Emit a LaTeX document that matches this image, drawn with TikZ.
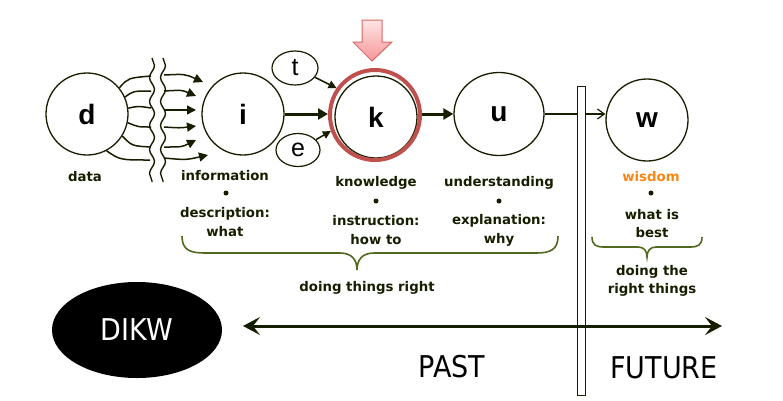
\documentclass[tikz,border=0pt]{standalone}
\usepackage{fontspec}
\usepackage{graphicx}
\setmainfont{DejaVu Sans}
\newfontfamily\letfont{Liberation Sans}
\usetikzlibrary{arrows.meta,decorations.pathmorphing,shapes.geometric}
\definecolor{ink}{RGB}{22,30,0}
\definecolor{olive}{RGB}{80,105,30}
\definecolor{ringred}{RGB}{192,80,77}
\definecolor{wisorange}{RGB}{250,135,20}
\definecolor{pinkfill}{RGB}{246,150,150}
\definecolor{pinklight}{RGB}{255,228,228}
\definecolor{pinkedge}{RGB}{215,105,105}
\tikzset{
  big/.style={circle, draw=ink, line width=1.3pt, minimum size=82pt, inner sep=0pt,
    font=\letfont\bfseries\fontsize{28}{28}\selectfont},
  small/.style={ellipse, draw=ink, line width=1.2pt, inner sep=0pt,
    font=\letfont\fontsize{25}{25}\selectfont},
  lab/.style={font=\bfseries\fontsize{13.3}{14}\selectfont, text=ink, inner sep=0pt},
  bul/.style={circle, fill=ink, minimum size=5pt, inner sep=0pt},
  big text/.style={font=\fontsize{30}{30}\selectfont, inner sep=0pt},
  fan/.style={ink, line width=1.5pt},
  fanarrow/.style={ink, line width=1.5pt, -{Triangle[length=9pt,width=9pt]}},
  thick arrow/.style={ink, line width=3pt, -{Triangle[length=10pt,width=11pt]}},
  bracepath/.style={olive, line width=1.6pt},
  wave/.style={ink, line width=1.4pt, decorate, decoration={snake, amplitude=2.5pt, segment length=24pt}}
}
\begin{document}
\begin{tikzpicture}[x=1pt,y=-1pt]
\useasboundingbox (0,0) rectangle (783,400);

% main nodes
\node[big] (d) at (87,114) {d};
\node[big] (i) at (243,114) {i};
\node[big] (k) at (376,117) {k};
\node[circle, draw=ringred, line width=4pt, minimum size=90pt, inner sep=0pt] (kring) at (375,115) {};
\node[big, ellipse, minimum width=90pt, minimum height=83pt] (u) at (499,114) {u};
\node[big] (w) at (647,120) {w};
\node[small, minimum width=46pt, minimum height=34pt] (t) at (295,68) {t};
\node[small, minimum width=44pt, minimum height=33pt] (e) at (298,150) {e};

% wavy separators
\coordinate (wl1) at (152,58); \coordinate (wl2) at (152,182);
\coordinate (wr1) at (163,58); \coordinate (wr2) at (163,182);
\draw[wave] (wl1) -- (wl2);
\draw[wave] (wr1) -- (wr2);

% fan from d to left wave
\coordinate (l1) at (151,76);  \coordinate (l2) at (151,91);
\coordinate (l3) at (151,108); \coordinate (l4) at (151,127);
\coordinate (l5) at (151,147); \coordinate (l6) at (150,160);
\draw[fan] (d.39) .. controls (128,78) .. (l1);
\draw[fan] (d.24) .. controls (133,91) .. (l2);
\draw[fan] (d.8) .. controls (138,106) .. (l3);
\draw[fan] (d.-12) .. controls (138,127) .. (l4);
\draw[fan] (d.-32) .. controls (132,146) .. (l5);
\draw[fan] (d.-62) .. controls (120,160) .. (l6);

% arrows from right wave to i
\coordinate (r1) at (164,75);  \coordinate (a1) at (203,82);
\coordinate (r2) at (164,91);  \coordinate (a2) at (196,96);
\coordinate (r3) at (164,110); \coordinate (a3) at (196,110);
\coordinate (r4) at (164,127); \coordinate (a4) at (196,126);
\coordinate (r5) at (164,147); \coordinate (a5) at (196,140);
\coordinate (r6) at (164,158); \coordinate (a6) at (208,155);
\draw[fanarrow] (r1) .. controls (185,74) .. (a1);
\draw[fanarrow] (r2) .. controls (182,90) .. (a2);
\draw[fanarrow] (r3) -- (a3);
\draw[fanarrow] (r4) .. controls (180,128) .. (a4);
\draw[fanarrow] (r5) .. controls (182,147) .. (a5);
\draw[fanarrow] (r6) .. controls (186,160) .. (a6);

% main flow arrows
\draw[thick arrow] (i.east) -- (i.east -| kring.west);
\draw[thick arrow] (u.west -| kring.east) -- (u.west);
\draw[ink, line width=1.5pt, -{Triangle[length=8pt,width=8pt]}] (t.-25) -- (kring.145);
\draw[ink, line width=1.5pt, -{Triangle[length=8pt,width=8pt]}] (e.30) -- (kring.-160);
\draw[ink, line width=1.2pt, -{Straight Barb[length=7pt,width=10pt]}] (u.east) -- (w.west |- u.east);

% pink arrow
\shade[top color=pinklight, bottom color=pinkfill, draw=pinkedge, line width=1pt]
  (362,20) -- (382,20) -- (382,42) -- (392,42) -- (372,61) -- (353,42) -- (362,42) -- cycle;

% divider bar
\node[draw=ink, fill=white, line width=1pt, minimum width=8pt, minimum height=309pt, inner sep=0pt] (bar) at (581,240.5) {};

% labels
\node[lab] (ldata) at (85,177) {data};
\node[lab] (linfo) at (225,176) {information};
\node[bul] (binfo) at (226,193) {};
\node[lab] (ldesc) at (225,214) {description:};
\node[lab] (lwhat) at (225,232) {what};
\node[lab] (lknow) at (376,183) {knowledge};
\node[bul] (bknow) at (376,201) {};
\node[lab] (linst) at (376,221) {instruction:};
\node[lab] (lhow) at (376,240) {how to};
\node[lab] (lund) at (499,183) {understanding};
\node[bul] (bund) at (499,201) {};
\node[lab] (lexp) at (499,221) {explanation:};
\node[lab] (lwhy) at (499,240) {why};
\node[lab, text=wisorange] (lwis) at (651,177) {wisdom};
\node[bul] (bwis) at (651,193) {};
\node[lab] (lwhatis) at (652,215) {what is};
\node[lab] (lbest) at (652,233) {best};
\node[lab] (ldoing) at (652,272) {doing the};
\node[lab] (lright) at (652,290) {right things};
\node[lab] (ldtr) at (367,288) {doing things right};

% braces
\draw[bracepath] (182,236) .. controls (182,250) and (190,253) .. (205,253) -- (340,253)
  .. controls (352,253) and (357,260) .. (357,270)
  .. controls (357,260) and (362,253) .. (374,253) -- (536,253)
  .. controls (550,253) and (558,250) .. (558,236);
\draw[bracepath] (592,237) .. controls (592,245) and (596,247) .. (604,247) -- (638,247)
  .. controls (644,247) and (647,251) .. (647,257)
  .. controls (647,251) and (650,247) .. (656,247) -- (690,247)
  .. controls (698,247) and (702,245) .. (702,237);

% bottom: DIKW and timeline
\node[ellipse, fill=black, minimum width=170pt, minimum height=96pt, inner sep=0pt, text=white, big text] (dikw) at (137,330) {\scalebox{0.9}[1]{DIKW}};
\coordinate (pastend) at (243,326);
\coordinate (futend) at (722,326);
\draw[ink, line width=3pt, {Stealth[length=17pt,width=18pt,inset=7pt]}-{Stealth[length=17pt,width=18pt,inset=7pt]}] (pastend) -- (futend);
\node[big text] (past) at (452,367) {\scalebox{0.9}[1]{PAST}};
\node[big text] (future) at (664,368) {\scalebox{0.9}[1]{FUTURE}};
\end{tikzpicture}
\end{document}
